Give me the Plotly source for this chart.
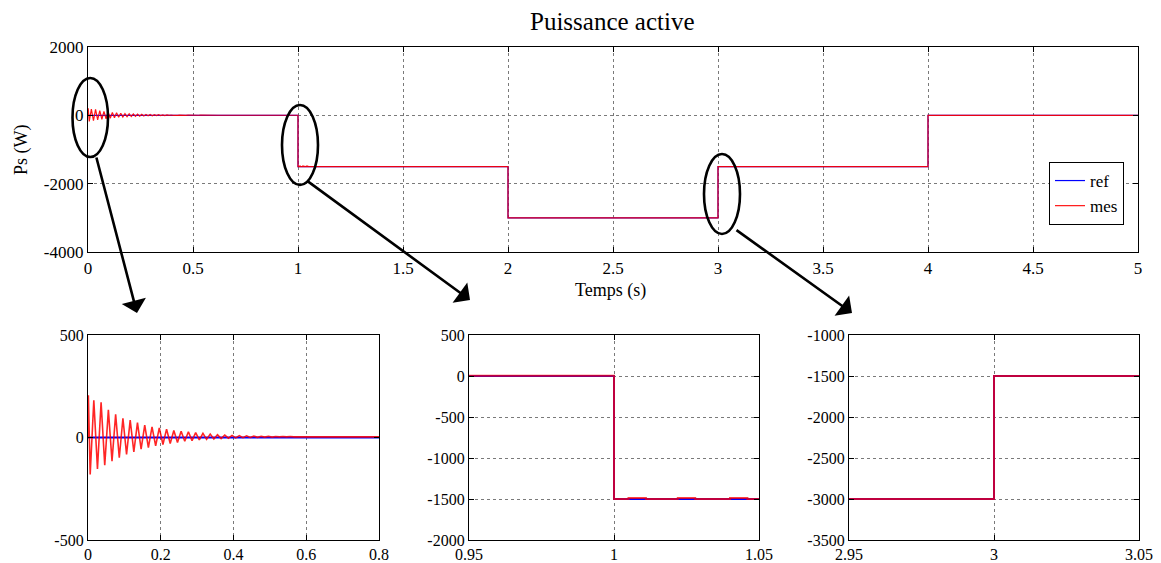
import plotly.graph_objects as go

# --- reference power (W): step set-points, held until the next switching time ---
ref_t = [0.0, 1.0, 2.0, 3.0, 4.0, 5.0]
ref_p = [0, -1500, -3000, -1500, 0, 0]

# --- measured power: start-up transient (alternating trough / peak samples) ---
osc_t = [0.000, 0.001, 0.006, 0.016, 0.026, 0.036, 0.046, 0.056, 0.066, 0.076,
         0.086, 0.096, 0.106, 0.116, 0.126, 0.136, 0.146, 0.156, 0.166, 0.176,
         0.186, 0.196, 0.206, 0.216, 0.226, 0.236, 0.246, 0.256, 0.266, 0.276,
         0.286, 0.296, 0.306, 0.316, 0.326, 0.336, 0.346, 0.356, 0.366, 0.376,
         0.386, 0.396, 0.406, 0.416, 0.426, 0.436, 0.446, 0.456, 0.466, 0.476,
         0.486, 0.496, 0.506, 0.516, 0.526, 0.536, 0.546, 0.556, 0.566, 0.576,
         0.586, 0.596, 0.62]
osc_p = [0, 206, -180, 182, -154, 172, -135, 135, -115, 113,
         -99, 94, -83, 85, -70, 73, -57, 60, -49, 52,
         -41, 47, -34, 41, -29, 34, -24, 31, -18, 28,
         -15, 24, -12, 20, -9, 17, -7, 14, -5, 12,
         -3, 10, -2, 9, -1, 8, 0, 7, 1, 6,
         2, 6, 2, 5, 3, 5, 3, 5, 3, 4,
         3, 4, 3]

# --- measured power after the transient (small ripple just after t = 1 s) ---
mes_t_tail = [1.0, 1.0, 1.005, 1.005, 1.011, 1.011, 1.022, 1.022, 1.028, 1.028,
              1.040, 1.040, 1.046, 1.046, 2.0, 2.0, 3.0, 3.0, 4.0, 4.0, 5.0]
mes_p_tail = [3, -1500, -1500, -1488, -1488, -1500, -1500, -1488, -1488, -1500,
              -1500, -1488, -1488, -1500, -1500, -3000, -3000, -1500, -1500, 0, 0]

mes_t = osc_t + mes_t_tail
mes_p = osc_p + mes_p_tail

W, H = 1161, 563
FONT = "Liberation Serif"
BLUE = "#0000FF"
RED = "#FF0000"


def px(x):
    return x / W


def py(y):
    return 1 - y / H


def labels(vals):
    # plain hyphen-minus labels
    return [("%g" % v) for v in vals]


fig = go.Figure()

panels = [
    # (axis suffix, blue width, red width, red opacity, show legend)
    ("", 1.2, 1.2, 0.92, True),
    ("2", 2.0, 1.6, 0.85, False),
    ("3", 2.0, 2.0, 0.75, False),
    ("4", 2.0, 2.0, 0.75, False),
]
for suf, lw_ref, lw_mes, op, leg in panels:
    fig.add_trace(go.Scatter(x=ref_t, y=ref_p, mode="lines", name="ref",
                             line=dict(color=BLUE, width=lw_ref, shape="hv"),
                             xaxis="x" + suf, yaxis="y" + suf, showlegend=leg))
    fig.add_trace(go.Scatter(x=mes_t, y=mes_p, mode="lines", name="mes",
                             line=dict(color=RED, width=lw_mes),
                             opacity=op,
                             xaxis="x" + suf, yaxis="y" + suf, showlegend=leg))

axis_common = dict(
    showline=True, linecolor="black", linewidth=1.3, mirror="ticks",
    ticks="inside", ticklen=5, tickcolor="black", tickwidth=1,
    showgrid=True, gridcolor="#7a7a7a", griddash="dot", gridwidth=1,
    zeroline=False, automargin=False,
    tickfont=dict(family=FONT, size=17, color="black"),
)
axis_small = dict(axis_common, tickfont=dict(family=FONT, size=16, color="black"))

x_top = [0, 0.5, 1, 1.5, 2, 2.5, 3, 3.5, 4, 4.5, 5]
y_top = [-4000, -2000, 0, 2000]
x_a = [0, 0.2, 0.4, 0.6, 0.8]
y_a = [-500, 0, 500]
x_b = [0.95, 1, 1.05]
y_b = [-2000, -1500, -1000, -500, 0, 500]
x_c = [2.95, 3, 3.05]
y_c = [-3500, -3000, -2500, -2000, -1500, -1000]

layout = dict(
    width=W, height=H, margin=dict(l=0, r=0, t=0, b=0, autoexpand=False),
    paper_bgcolor="white", plot_bgcolor="white",
    font=dict(family=FONT, color="black"),
    xaxis=dict(axis_common, domain=[px(88), px(1138)], range=[0, 5],
               tickvals=x_top, ticktext=labels(x_top), anchor="y"),
    yaxis=dict(axis_common, domain=[py(252), py(47)], range=[-4000, 2000],
               tickvals=y_top, ticktext=labels(y_top), anchor="x"),
    xaxis2=dict(axis_small, domain=[px(88), px(379)], range=[0, 0.8],
                tickvals=x_a, ticktext=labels(x_a), anchor="y2"),
    yaxis2=dict(axis_small, domain=[py(540), py(335)], range=[-500, 500],
                tickvals=y_a, ticktext=labels(y_a), anchor="x2"),
    xaxis3=dict(axis_small, domain=[px(469), px(759)], range=[0.95, 1.05],
                tickvals=x_b, ticktext=labels(x_b), anchor="y3"),
    yaxis3=dict(axis_small, domain=[py(540), py(335)], range=[-2000, 500],
                tickvals=y_b, ticktext=labels(y_b), anchor="x3"),
    xaxis4=dict(axis_small, domain=[px(849), px(1139)], range=[2.95, 3.05],
                tickvals=x_c, ticktext=labels(x_c), anchor="y4"),
    yaxis4=dict(axis_small, domain=[py(540), py(335)], range=[-3500, -1000],
                tickvals=y_c, ticktext=labels(y_c), anchor="x4"),
    showlegend=True,
    legend=dict(x=px(1124), y=py(162), xanchor="right", yanchor="top",
                bgcolor="white", bordercolor="black", borderwidth=1,
                font=dict(family=FONT, size=17, color="black"),
                tracegroupgap=0, itemwidth=30),
)
fig.update_layout(**layout)

# titles
fig.add_annotation(text="Puissance active", x=px(612), y=py(21), xref="paper", yref="paper",
                   xanchor="center", yanchor="middle",
                   showarrow=False, font=dict(family=FONT, size=25, color="black"))
fig.add_annotation(text="Ps (W)", x=px(21), y=py(150), xref="paper", yref="paper",
                   xanchor="center", yanchor="middle",
                   showarrow=False, textangle=-90, font=dict(family=FONT, size=18, color="black"))
fig.add_annotation(text="Temps (s)", x=px(610), y=py(290), xref="paper", yref="paper",
                   xanchor="center", yanchor="middle",
                   showarrow=False, font=dict(family=FONT, size=18, color="black"))

# zoom ellipses around the regions shown in the lower panels
for x0, x1, y0, y1 in [(72.5, 108, 78, 157), (282, 318, 105, 185), (704, 740, 154, 234)]:
    fig.add_shape(type="circle", xref="paper", yref="paper",
                  x0=px(x0), x1=px(x1), y0=py(y1), y1=py(y0),
                  line=dict(color="black", width=2.6))

# arrows from each ellipse to its detail panel: (tail x, tail y, tip x, tip y)
for tx, ty, hx, hy in [(96, 156, 137, 313), (306, 180, 470, 300), (735, 229, 852, 313)]:
    fig.add_annotation(x=px(hx), y=py(hy), xref="paper", yref="paper",
                       ax=tx - hx, ay=ty - hy, axref="pixel", ayref="pixel",
                       showarrow=True, arrowhead=1, arrowsize=1.6, arrowwidth=2.6,
                       arrowcolor="black", text="")

fig.write_html("out.html")
